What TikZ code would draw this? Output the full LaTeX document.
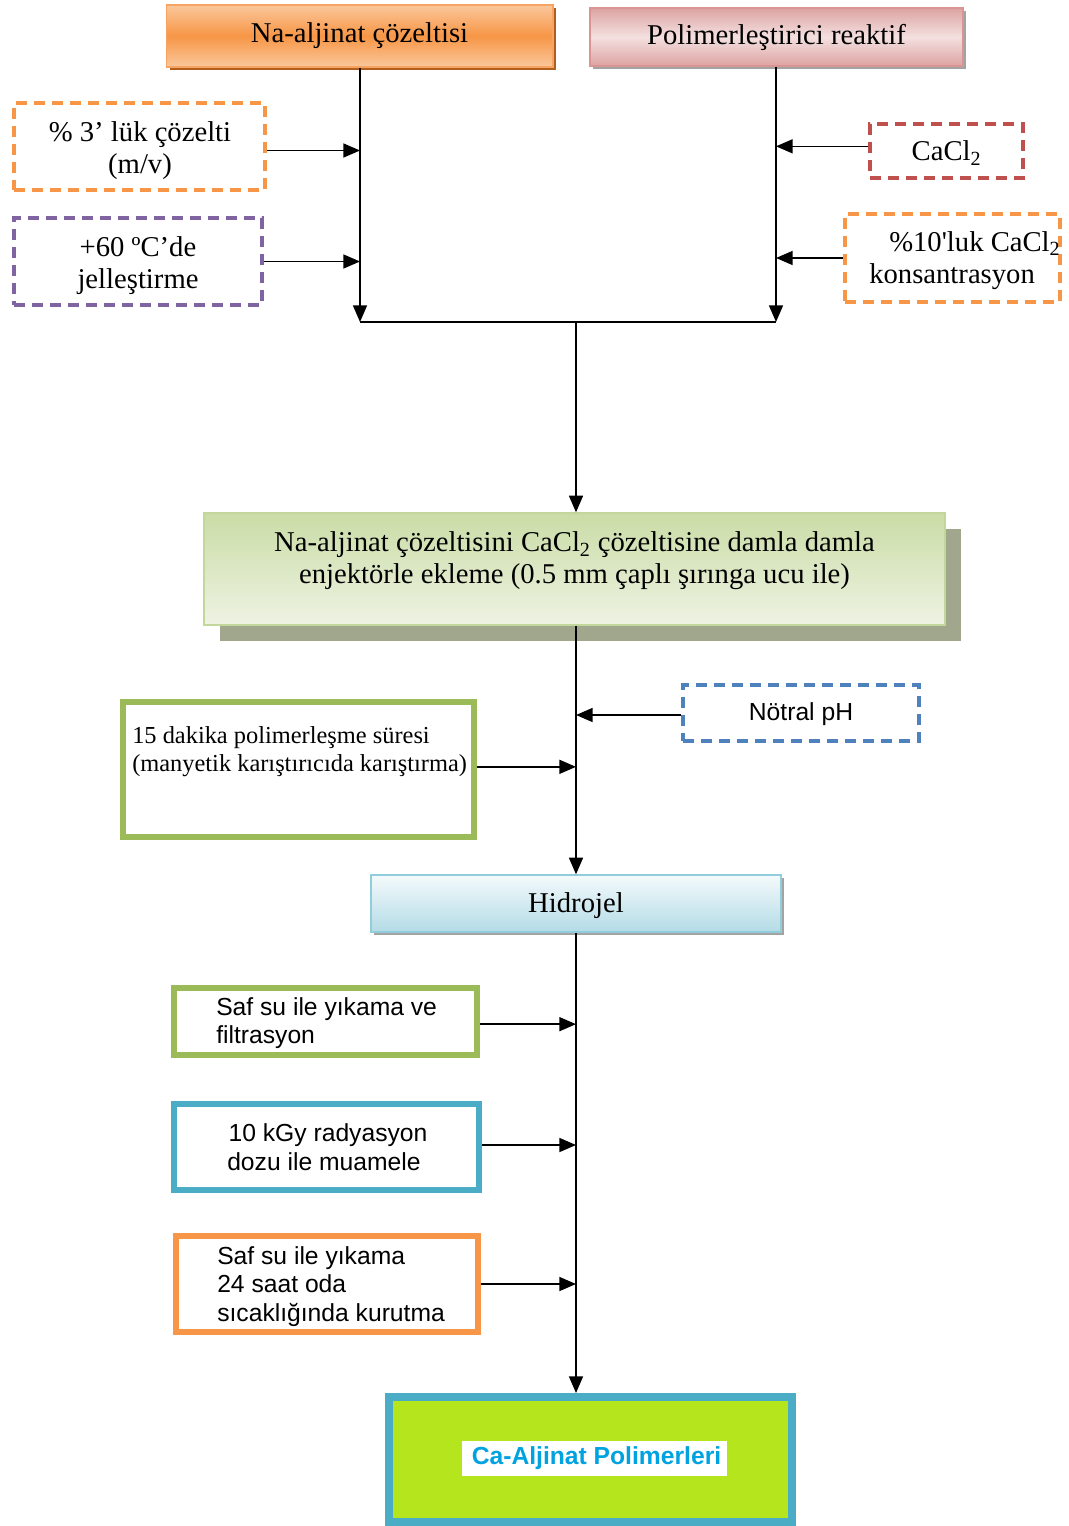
\documentclass[tikz,border=0pt]{standalone}
\usepackage{fontspec}
\setmainfont{Liberation Serif}
\setsansfont{Liberation Sans}
\usetikzlibrary{arrows.meta,shadows}

\definecolor{orMid}{HTML}{F79646}
\definecolor{orLight}{HTML}{FBC79C}
\definecolor{orEdge}{HTML}{F6A463}
\definecolor{orShadow}{HTML}{B25F1E}
\definecolor{pkMid}{HTML}{F4E0E0}
\definecolor{pkDark}{HTML}{DCA3A2}
\definecolor{pkEdge}{HTML}{D99594}
\definecolor{grShadow}{HTML}{A3A3A3}
\definecolor{dashOrange}{HTML}{F79646}
\definecolor{dashPurple}{HTML}{8064A2}
\definecolor{dashRed}{HTML}{C0504D}
\definecolor{dashBlue}{HTML}{4F81BD}
\definecolor{olTop}{HTML}{CADCA6}
\definecolor{olBottom}{HTML}{EEF3E3}
\definecolor{olEdge}{HTML}{C3D69B}
\definecolor{olShadow}{HTML}{A1A78D}
\definecolor{bluTop}{HTML}{F4FAFC}
\definecolor{bluBottom}{HTML}{B4DBE6}
\definecolor{bluEdge}{HTML}{92CDDC}
\definecolor{edgeGreen}{HTML}{9BBB59}
\definecolor{edgeBlue}{HTML}{4BACC6}
\definecolor{edgeOrange}{HTML}{F79646}
\definecolor{limeFill}{HTML}{B5E61D}
\definecolor{titleBlue}{HTML}{00A3E0}

\begin{document}
\begin{tikzpicture}[x=0.75pt,y=-0.75pt,
  serifL/.style={font=\fontsize{21.5}{24}\selectfont},
  serifM/.style={font=\fontsize{18.3}{20.5}\selectfont},
  sansM/.style={font=\sffamily\fontsize{18.5}{21.5}\selectfont},
  arr/.style={-{Triangle[length=12.5pt,width=10.5pt]}, line width=1.2pt},
  plain/.style={line width=1.2pt},
  dashbox/.style={draw, line width=2.6pt, dash pattern=on 8.5pt off 5pt,
    align=center, inner sep=0pt, serifL},
  framebox/.style={draw, line width=4.5pt, inner sep=0pt, fill=white},
  txt/.style={align=left, anchor=west, inner sep=0pt},
  ctxt/.style={align=center, inner sep=0pt, serifL}
]
\useasboundingbox (0,0) rectangle (1069,1526);

% --- top row -------------------------------------------------------
\node[serifL, draw=orEdge, line width=1pt, top color=orLight, bottom color=orLight,
      middle color=orMid, minimum width=290pt, minimum height=46.5pt,
      drop shadow={shadow xshift=2.5pt, shadow yshift=-2.5pt, fill=orShadow, opacity=1}]
  (na) at (359.5,36) {Na-aljinat çözeltisi};
\node[serifL, draw=pkEdge, line width=1pt, top color=pkDark, bottom color=pkDark,
      middle color=pkMid, minimum width=279.75pt, minimum height=43.5pt,
      drop shadow={shadow xshift=2.5pt, shadow yshift=-2.5pt, fill=grShadow, opacity=1}]
  (pr) at (776.5,37) {Polimerleştirici reaktif};

% --- dashed side conditions -----------------------------------------
\node[dashbox, draw=dashOrange, minimum width=188.25pt, minimum height=65.25pt]
  (pct) at (139.5,146.5) {};
\node[ctxt] (pctT) at (140,150.5) {\% 3’ lük çözelti\\(m/v)};
\node[dashbox, draw=dashPurple, minimum width=186pt, minimum height=65.25pt]
  (gel) at (138,261.5) {};
\node[ctxt] (gelT) at (138,265.5) {+60 ºC’de\\jelleştirme};
\node[dashbox, draw=dashRed, minimum width=114.75pt, minimum height=40.5pt]
  (cacl) at (946.5,151) {};
\node[ctxt] (caclT) at (946.5,153) {CaCl\textsubscript{2}};
\node[dashbox, draw=dashOrange, minimum width=161.25pt, minimum height=66pt]
  (kons) at (952.5,258) {};
\node[txt, serifL] (konsT) at (869,261)
  {\hspace*{15pt}\%10\textquotesingle luk CaCl\textsubscript{2}\\konsantrasyon};

% --- junction ---------------------------------------------------------
\coordinate (jL) at (360,322);
\coordinate (jR) at (776,322);
\coordinate (jM) at (576,322);

\draw[arr] (na.south -| jL) -- (jL);
\draw[arr] (pr.south -| jR) -- (jR);
\draw[plain] (jL) -- (jR);
\draw[arr] ([yshift=-3pt]pct.east) -- ([yshift=-3pt]pct.east -| jL);
\draw[arr] (gel.east) -- (gel.east -| jL);
\draw[arr] ([yshift=3.5pt]cacl.west) -- ([yshift=3.5pt]cacl.west -| jR);
\draw[arr] (kons.west) -- (kons.west -| jR);

% --- dropping step --------------------------------------------------
\node[draw=olEdge, line width=1pt, top color=olTop, bottom color=olBottom,
      minimum width=555.75pt, minimum height=84pt,
      drop shadow={shadow xshift=12pt, shadow yshift=-12pt, fill=olShadow, opacity=1}]
  (drop) at (574.5,569) {};
\node[ctxt] (dropT) at (574.5,561)
  {Na-aljinat çözeltisini CaCl\textsubscript{2} çözeltisine damla damla\\
   enjektörle ekleme (0.5 mm çaplı şırınga ucu ile)};
\draw[arr] (jM) -- (drop.north -| jM);

% --- polymerisation -------------------------------------------------
\node[dashbox, draw=dashBlue, sansM, minimum width=177pt, minimum height=42pt]
  (ph) at (801,713) {};
\node[sansM, inner sep=0pt] (phT) at (801,714.5) {Nötral pH};
\node[framebox, draw=edgeGreen, minimum width=263.25pt, minimum height=101.25pt]
  (dak) at (298.5,769.5) {};
\node[txt, serifM] (dakT) at (132,751.5)
  {15 dakika polimerleşme süresi\\(manyetik karıştırıcıda karıştırma)};

\node[serifL, draw=bluEdge, line width=1pt, top color=bluTop, bottom color=bluBottom,
      minimum width=307.5pt, minimum height=42.75pt,
      drop shadow={shadow xshift=2.5pt, shadow yshift=-2.5pt, fill=grShadow, opacity=1}]
  (hid) at (576,903.5) {};
\node[ctxt] (hidT) at (576,905.5) {Hidrojel};

\draw[arr] (drop.south -| jM) -- (hid.north -| jM);
\draw[arr] ([yshift=-1.5pt]ph.west) -- ([yshift=-1.5pt]ph.west -| jM);
\draw[arr] ([yshift=2pt]dak.east) -- ([yshift=2pt]dak.east -| jM);

% --- after-treatment ------------------------------------------------
\node[framebox, draw=edgeGreen, minimum width=227.25pt, minimum height=50.25pt]
  (s1) at (325.5,1021.5) {};
\node[txt, sansM] (s1T) at (216,1023) {Saf su ile yıkama ve\\filtrasyon};
\node[framebox, draw=edgeBlue, minimum width=228.75pt, minimum height=64.5pt]
  (s2) at (326.5,1147) {};
\node[txt, sansM] (s2T) at (227,1147.5) {\hspace*{1pt}10 kGy radyasyon\\dozu ile muamele};
\node[framebox, draw=edgeOrange, minimum width=226.5pt, minimum height=72pt]
  (s3) at (327,1284) {};
\node[txt, sansM] (s3T) at (217,1286.5) {Saf su ile yıkama\\24 saat oda\\sıcaklığında kurutma};

% --- product --------------------------------------------------------
\node[draw=edgeBlue, fill=limeFill, line width=6pt,
      minimum width=302.25pt, minimum height=93.75pt] (fin) at (590.5,1459.5) {};
\node[fill=white, text=titleBlue, font=\sffamily\bfseries\fontsize{18.5}{21}\selectfont,
      minimum width=198.75pt, minimum height=26.25pt, inner sep=0pt]
  (finT) at (594.5,1458.5) {\hspace*{3pt}Ca-Aljinat Polimerleri};

\draw[arr] (hid.south) -- (hid.south |- fin.north);
\draw[arr] ([yshift=-2pt]s1.east) -- ([yshift=-2pt]s1.east -| hid.south);
\draw[arr] ([yshift=1.5pt]s2.east) -- ([yshift=1.5pt]s2.east -| hid.south);
\draw[arr] (s3.east) -- (s3.east -| hid.south);
\end{tikzpicture}
\end{document}
